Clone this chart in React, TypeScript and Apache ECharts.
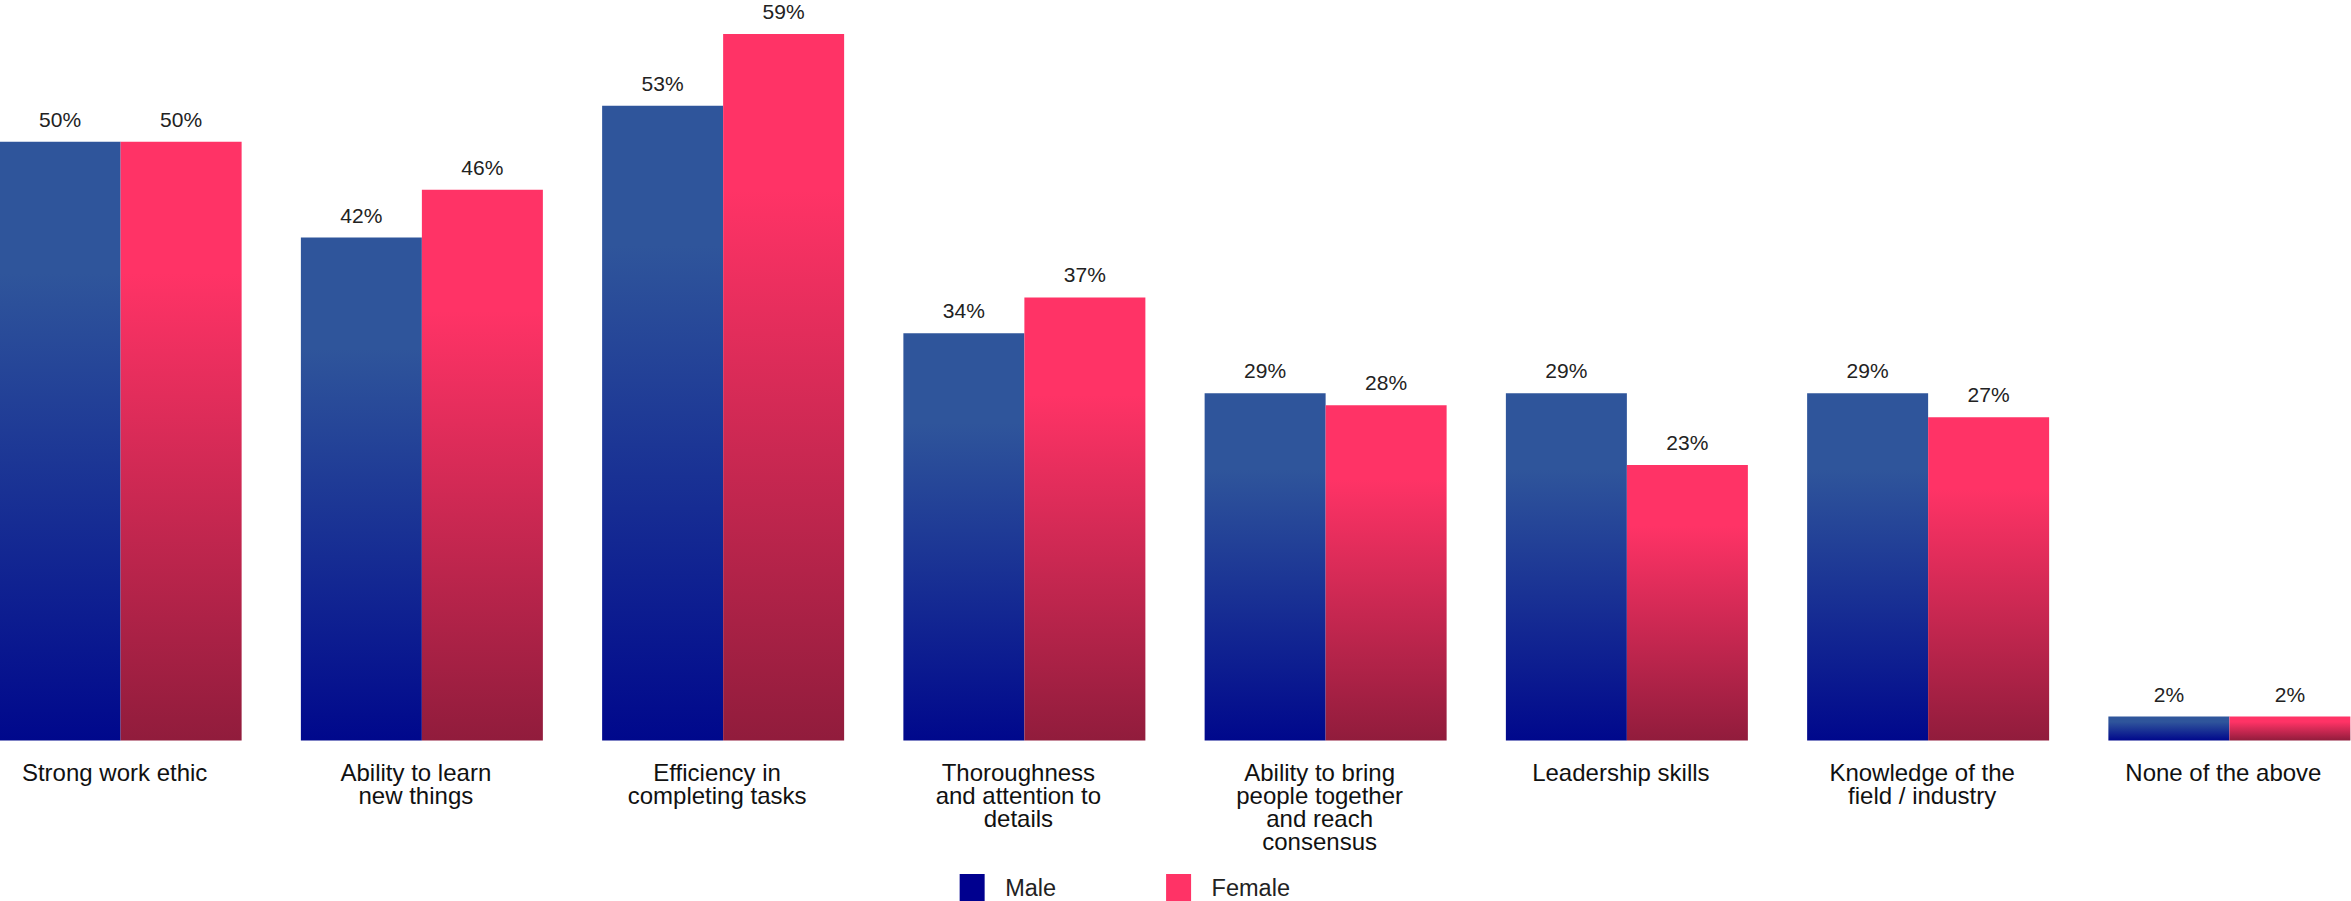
import React, { useEffect, useRef } from "react";
import * as echarts from "echarts";

const categories = [
  "Strong work ethic",
  "Ability to learn\nnew things",
  "Efficiency in\ncompleting tasks",
  "Thoroughness\nand attention to\ndetails",
  "Ability to bring\npeople together\nand reach\nconsensus",
  "Leadership skills",
  "Knowledge of the\nfield / industry",
  "None of the above",
];
const maleValues = [50, 42, 53, 34, 29, 29, 29, 2];
const femaleValues = [50, 46, 59, 37, 28, 23, 27, 2];
const seriesNames = ["Male", "Female"];

const FONT = "'Liberation Sans', Arial, Helvetica, sans-serif";
const BAND = 301.3;
const BAR_W = 121;
const OFFSET = (BAND - 2 * BAR_W) / 2;
const CHART_W = BAND * 8;

function grad(top: string, bottom: string) {
  return new echarts.graphic.LinearGradient(0, 0, 0, 1, [
    { offset: 0, color: top },
    { offset: 0.22, color: top },
    { offset: 1, color: bottom },
  ]);
}

export default function App() {
  const ref = useRef<HTMLDivElement>(null);
  useEffect(() => {
    if (!ref.current) return;
    const chart = echarts.init(ref.current, undefined, { renderer: "svg" });
    const label = {
      show: true,
      position: "top" as const,
      distance: 12,
      fontSize: 21,
      fontFamily: FONT,
      color: "#222",
      formatter: (p: any) => p.value + "%",
    };
    chart.setOption({
      animation: false,
      backgroundColor: "#ffffff",
      grid: { left: 0, right: 0, top: 22, bottom: 160.5, containLabel: false },
      legend: {
        left: 955 + OFFSET,
        top: 869,
        itemWidth: 25,
        itemHeight: 28,
        itemGap: 110,
        icon: "rect",
        textStyle: {
          fontSize: 23.5,
          fontFamily: FONT,
          color: "#222",
          padding: [0, 0, 0, 15.5],
        },
        data: [
          { name: seriesNames[0], itemStyle: { color: "#00008F" } },
          { name: seriesNames[1], itemStyle: { color: "#FF3366" } },
        ],
      },
      xAxis: {
        type: "category",
        data: categories,
        axisLine: { show: false },
        axisTick: { show: false },
        axisLabel: {
          interval: 0,
          margin: 20.5,
          fontSize: 24,
          lineHeight: 23,
          fontFamily: FONT,
          color: "#111",
          verticalAlign: "top",
          padding: [0, 12, 0, 0],
        },
      },
      yAxis: {
        type: "value",
        min: 0,
        max: 60,
        show: false,
        splitLine: { show: false },
      },
      series: [
        {
          name: seriesNames[0],
          type: "bar",
          data: maleValues,
          barWidth: BAR_W,
          barGap: "0%",
          itemStyle: { color: grad("#2F559B", "#00088C") },
          label,
        },
        {
          name: seriesNames[1],
          type: "bar",
          data: femaleValues,
          barWidth: BAR_W,
          barGap: "0%",
          itemStyle: { color: grad("#FF3366", "#911C3C") },
          label,
        },
      ],
    });
    return () => chart.dispose();
  }, []);
  return (
    <div
      style={{
        position: "fixed",
        left: 0,
        top: 0,
        width: 2351,
        height: 901,
        overflow: "hidden",
        background: "#fff",
      }}
    >
      <div
        ref={ref}
        style={{ position: "absolute", left: -OFFSET, top: 0, width: CHART_W, height: 901 }}
      />
    </div>
  );
}
